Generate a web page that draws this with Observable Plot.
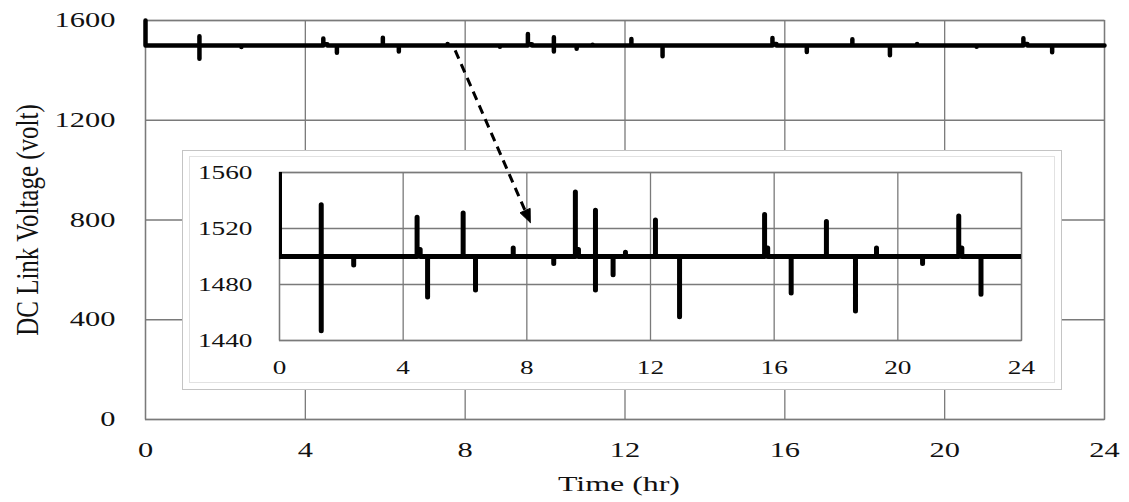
<!DOCTYPE html>
<html><head><meta charset="utf-8">
<script src="https://cdn.jsdelivr.net/npm/d3@7"></script>
<script src="https://cdn.jsdelivr.net/npm/@observablehq/plot@0.6"></script>
<style>
body{margin:0;background:#fff;}
#wrap{position:relative;width:1129px;height:502px;overflow:hidden;background:#fff;}
#wrap svg{position:absolute;}
.bord{position:absolute;box-sizing:border-box;pointer-events:none;}
</style></head><body><div id="wrap"></div>
<script>
// ---- data ----
const startTime = [0, 0];
const startVolt = [1600, 1500];
const spikeTime     = [1.35, 2.4, 4.45, 4.79, 5.94, 6.34, 7.56, 8.87, 9.57, 10.22, 10.79, 11.19, 12.16, 12.94, 15.69, 16.55, 17.69, 18.63, 19.31, 20.8, 21.97, 22.69];
const spikeHigh     = [1537, 1500, 1528, 1500, 1531, 1500, 1506, 1500, 1546, 1533, 1500, 1503, 1526, 1500, 1530, 1500, 1525, 1500, 1506, 1500, 1529, 1500];
const spikeLow      = [1447, 1494, 1500, 1471, 1500, 1476, 1500, 1495, 1500, 1476, 1487, 1500, 1500, 1457, 1500, 1474, 1500, 1461, 1500, 1495, 1500, 1473];
const spikeShoulder = [1500, 1500, 1505, 1500, 1500, 1500, 1500, 1500, 1505, 1500, 1500, 1500, 1500, 1500, 1506, 1500, 1500, 1500, 1500, 1500, 1506, 1500];
const shoulderLen = 0.1;
const baseVolt = 1500;
const endTime = 24;
const mainXTicks = [0, 4, 8, 12, 16, 20, 24];
const mainYTicks = [0, 400, 800, 1200, 1600];
const insetXTicks = [0, 4, 8, 12, 16, 20, 24];
const insetYTicks = [1440, 1480, 1520, 1560];
const arrowFrom = [7.75, 1480];
const arrowTo = [9.63, 790];

// ---- build series ----
const series = [];
startTime.forEach((t, i) => series.push({t, v: startVolt[i]}));
spikeTime.forEach((t, i) => {
  series.push({t, v: baseVolt}, {t, v: spikeHigh[i]}, {t, v: spikeLow[i]}, {t, v: baseVolt},
              {t, v: spikeShoulder[i]}, {t: t + shoulderLen, v: spikeShoulder[i]}, {t: t + shoulderLen, v: baseVolt});
});
series.push({t: endTime, v: baseVolt});

const font = '"Liberation Serif", "Times New Roman", serif';
const grid = "#7a7a7a";
const fmt = d => String(d);
const wrap = document.getElementById("wrap");

// ---- main chart ----
const main = Plot.plot({
  width: 1129, height: 502,
  marginLeft: 145, marginRight: 25, marginTop: 20, marginBottom: 83,
  style: {fontFamily: font, fontSize: "21px", color: "#111", background: "white"},
  x: {domain: [0, 24]},
  y: {domain: [0, 1600]},
  marks: [
    Plot.gridX(mainXTicks, {stroke: grid, strokeOpacity: 1, strokeWidth: 1.3}),
    Plot.gridY(mainYTicks, {stroke: grid, strokeOpacity: 1, strokeWidth: 1.3}),
    Plot.frame({stroke: grid, strokeWidth: 1.3}),
    Plot.line(series, {x: "t", y: "v", stroke: "#000", strokeWidth: 4.5}),
    Plot.axisX(mainXTicks, {tickSize: 0, tickPadding: 23, label: null, tickFormat: fmt}),
    Plot.axisY(mainYTicks, {tickSize: 0, tickPadding: 30, label: null, tickFormat: fmt}),
    Plot.text(["Time (hr)"], {text: d => d, frameAnchor: "bottom", dx: -6, dy: 64, fontSize: 22, textAnchor: "middle", lineAnchor: "middle"}),
    Plot.text(["DC Link Voltage (volt)"], {text: d => d, frameAnchor: "left", dx: -118, rotate: -90, fontSize: 25, textAnchor: "middle", lineAnchor: "middle"})
  ]
});
main.style.left = "0px"; main.style.top = "0px";
wrap.appendChild(main);

// ---- inset chart ----
const inset = Plot.plot({
  width: 880, height: 240,
  marginLeft: 97, marginRight: 41, marginTop: 22, marginBottom: 50,
  style: {fontFamily: font, fontSize: "19.5px", color: "#111", background: "white"},
  x: {domain: [0, 24]},
  y: {domain: [1440, 1560]},
  marks: [
    Plot.gridX(insetXTicks, {stroke: grid, strokeOpacity: 1, strokeWidth: 1.3}),
    Plot.gridY(insetYTicks, {stroke: grid, strokeOpacity: 1, strokeWidth: 1.3}),
    Plot.frame({stroke: grid, strokeWidth: 1.3}),
    Plot.line(series, {x: "t", y: "v", stroke: "#000", strokeWidth: 5, clip: true}),
    Plot.axisX(insetXTicks, {tickSize: 0, tickPadding: 20, label: null, tickFormat: fmt}),
    Plot.axisY(insetYTicks, {tickSize: 0, tickPadding: 27, label: null, tickFormat: fmt})
  ]
});
inset.style.left = "182px"; inset.style.top = "150px";
wrap.appendChild(inset);

// inset borders (chart-area frame)
const b1 = document.createElement("div");
b1.className = "bord";
Object.assign(b1.style, {left: "182px", top: "150px", width: "880px", height: "240px", border: "1.5px solid #c4c4c4"});
wrap.appendChild(b1);
const b2 = document.createElement("div");
b2.className = "bord";
Object.assign(b2.style, {left: "189px", top: "156px", width: "866px", height: "227px", border: "1px solid #e2e2e2"});
wrap.appendChild(b2);

// ---- arrow overlay (same scales as main) ----
const sx = main.scale("x"), sy = main.scale("y");
const p0 = [sx.apply(arrowFrom[0]), sy.apply(arrowFrom[1])];
const p1 = [sx.apply(arrowTo[0]), sy.apply(arrowTo[1])];
const L = Math.hypot(p1[0] - p0[0], p1[1] - p0[1]);
const ux = (p1[0] - p0[0]) / L, uy = (p1[1] - p0[1]) / L;
const headLen = 13, headHalf = 5.5;
const base = [p1[0] - ux * headLen, p1[1] - uy * headLen];
const head = [
  p1,
  [base[0] - uy * headHalf, base[1] + ux * headHalf],
  [base[0] + uy * headHalf, base[1] - ux * headHalf],
  p1
].map(([px, py]) => ({t: sx.invert(px), v: sy.invert(py)}));
const shaft = [{x1: arrowFrom[0], y1: arrowFrom[1], x2: sx.invert(base[0] + ux * 2), y2: sy.invert(base[1] + uy * 2)}];

const overlay = Plot.plot({
  width: 1129, height: 502,
  marginLeft: 145, marginRight: 25, marginTop: 20, marginBottom: 83,
  style: {background: "transparent", overflow: "visible"},
  x: {domain: [0, 24], axis: null},
  y: {domain: [0, 1600], axis: null},
  marks: [
    Plot.link(shaft, {x1: "x1", y1: "y1", x2: "x2", y2: "y2", stroke: "#000", strokeWidth: 3, strokeDasharray: "9,6"}),
    Plot.line(head, {x: "t", y: "v", stroke: "#000", fill: "#000", strokeWidth: 1})
  ]
});
overlay.style.left = "0px"; overlay.style.top = "0px"; overlay.style.pointerEvents = "none";
wrap.appendChild(overlay);

// ---- widen glyphs like the reference (keeps real text) ----
function stretch(svg, factor, skip) {
  svg.querySelectorAll("text").forEach(t => {
    if (skip && t.textContent === skip) return;
    const w = t.getComputedTextLength();
    if (w > 0) {
      t.setAttribute("textLength", (w * factor).toFixed(1));
      t.setAttribute("lengthAdjust", "spacingAndGlyphs");
    }
  });
}
stretch(main, 1.45, "DC Link Voltage (volt)");
stretch(inset, 1.4);
main.querySelectorAll("text").forEach(t => {
  if (t.textContent === "DC Link Voltage (volt)") {
    const tr = t.getAttribute("transform");
    if (tr) t.setAttribute("transform", tr + " scale(1,1.3)");
  }
});
</script>
</body></html>
